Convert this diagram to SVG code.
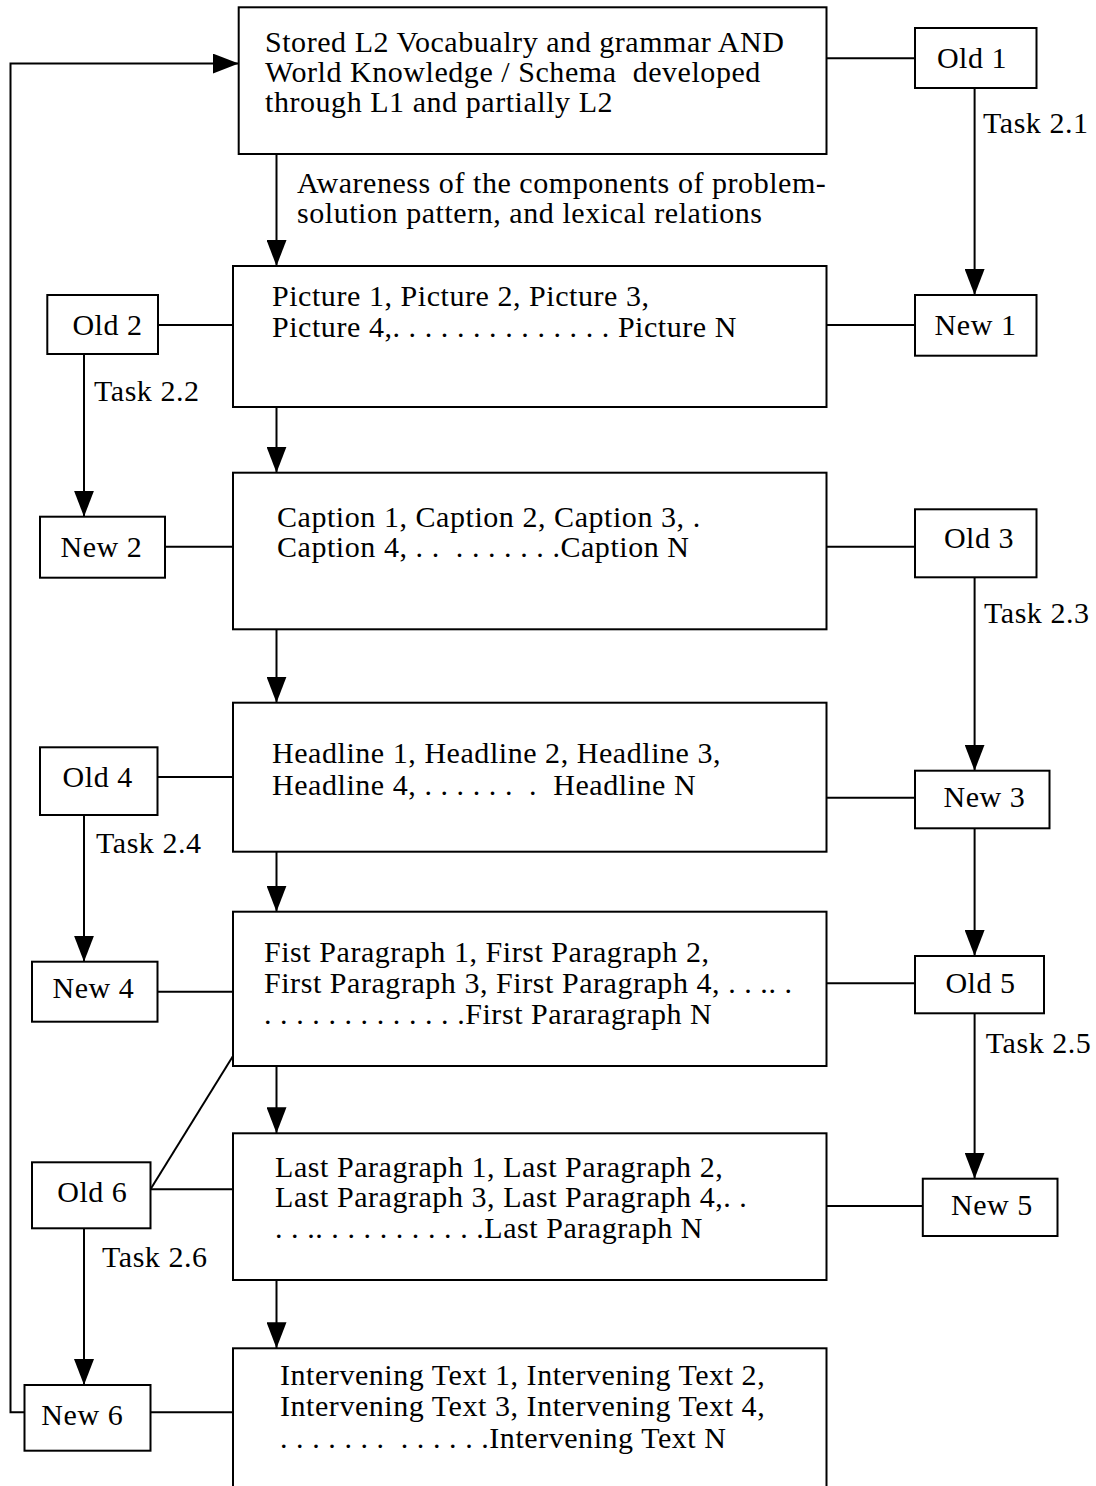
<svg xmlns="http://www.w3.org/2000/svg" width="1096" height="1486" viewBox="0 0 1096 1486">
<style>
  .box { fill: #fff; stroke: #000; stroke-width: 2; }
  .ln { fill: none; stroke: #000; stroke-width: 2; }
  .arr { fill: none; stroke: #000; stroke-width: 2; marker-end: url(#ah); }
  text { font-family: "Liberation Serif", "Times New Roman", serif; font-size: 30px; letter-spacing: 0.55px; fill: #000; white-space: pre; }
  .c { text-anchor: middle; }
</style>
<defs>
  <marker id="ah" viewBox="0 0 26 20" refX="26" refY="10" markerWidth="26" markerHeight="20" markerUnits="userSpaceOnUse" orient="auto">
    <path d="M0,0 L26,10 L0,20 z" fill="#000"/>
  </marker>
</defs>
<rect width="1096" height="1486" fill="#fff"/>

<g id="connectors">
  <polyline class="arr" points="24.5,1412.3 10.5,1412.3 10.5,63.5 238.7,63.5"/>
  <line class="arr" x1="276.5" y1="154" x2="276.5" y2="266"/>
  <line class="arr" x1="276.5" y1="407" x2="276.5" y2="472.7"/>
  <line class="arr" x1="276.5" y1="629.3" x2="276.5" y2="702.7"/>
  <line class="arr" x1="276.5" y1="851.7" x2="276.5" y2="911.7"/>
  <line class="arr" x1="276.5" y1="1066" x2="276.5" y2="1133.3"/>
  <line class="arr" x1="276.5" y1="1280" x2="276.5" y2="1348.3"/>
  <line class="arr" x1="974.6" y1="88" x2="974.6" y2="295"/>
  <line class="arr" x1="974.6" y1="577.3" x2="974.6" y2="770.7"/>
  <line class="arr" x1="974.6" y1="828.3" x2="974.6" y2="956"/>
  <line class="arr" x1="974.6" y1="1013.3" x2="974.6" y2="1178.7"/>
  <line class="arr" x1="84" y1="354" x2="84" y2="516.7"/>
  <line class="arr" x1="84" y1="815" x2="84" y2="961.7"/>
  <line class="arr" x1="84" y1="1228.3" x2="84" y2="1385"/>
  <line class="ln" x1="824" y1="58.3" x2="915" y2="58.3"/>
  <line class="ln" x1="824" y1="325" x2="915" y2="325"/>
  <line class="ln" x1="824" y1="546.7" x2="915" y2="546.7"/>
  <line class="ln" x1="824" y1="797.7" x2="915" y2="797.7"/>
  <line class="ln" x1="824" y1="983.3" x2="915" y2="983.3"/>
  <line class="ln" x1="824" y1="1206" x2="922.8" y2="1206"/>
  <line class="ln" x1="158" y1="325" x2="233" y2="325"/>
  <line class="ln" x1="165" y1="546.7" x2="238" y2="546.7"/>
  <line class="ln" x1="157.5" y1="777" x2="238" y2="777"/>
  <line class="ln" x1="157.5" y1="991.7" x2="233" y2="991.7"/>
  <line class="ln" x1="150.5" y1="1189.3" x2="238" y2="1189.3"/>
  <line class="ln" x1="150.5" y1="1412.3" x2="233" y2="1412.3"/>
  <line class="ln" x1="233" y1="1056" x2="150.5" y2="1189.3"/>
  <text x="297" y="193">Awareness of the components of problem-</text>
  <text x="297" y="223">solution pattern, and lexical relations</text>
  <text x="983" y="133">Task 2.1</text>
  <text x="94" y="400.7">Task 2.2</text>
  <text x="984" y="622.7">Task 2.3</text>
  <text x="96" y="852.7">Task 2.4</text>
  <text x="985.8" y="1053.3">Task 2.5</text>
  <text x="102" y="1266.7">Task 2.6</text>
</g>

<g id="stored">
  <rect class="box" x="238.7" y="7.3" width="587.8" height="146.7"/>
  <text x="265" y="52">Stored L2 Vocabualry and grammar AND</text>
  <text x="265" y="82">World Knowledge / Schema  developed</text>
  <text x="265" y="112">through L1 and partially L2</text>
</g>
<g id="picture">
  <rect class="box" x="233" y="266" width="593.5" height="141"/>
  <text x="272" y="306">Picture 1, Picture 2, Picture 3,</text>
  <text x="272" y="337">Picture 4,. . . . . . . . . . . . . . Picture N</text>
</g>
<g id="caption">
  <rect class="box" x="233" y="472.7" width="593.5" height="156.6"/>
  <text x="277" y="527">Caption 1, Caption 2, Caption 3, .</text>
  <text x="277" y="557">Caption 4, . .  . . . . . . .Caption N</text>
</g>
<g id="headline">
  <rect class="box" x="233" y="702.7" width="593.5" height="149"/>
  <text x="272" y="763">Headline 1, Headline 2, Headline 3,</text>
  <text x="272" y="795">Headline 4, . . . . . .  .  Headline N</text>
</g>
<g id="first">
  <rect class="box" x="233" y="911.7" width="593.5" height="154.3"/>
  <text x="264" y="962">Fist Paragraph 1, First Paragraph 2,</text>
  <text x="264" y="993">First Paragraph 3, First Paragraph 4, . . .. .</text>
  <text x="264" y="1024">. . . . . . . . . . . . .First Pararagraph N</text>
</g>
<g id="last">
  <rect class="box" x="233" y="1133.3" width="593.5" height="146.7"/>
  <text x="275" y="1177">Last Paragraph 1, Last Paragraph 2,</text>
  <text x="275" y="1207">Last Paragraph 3, Last Paragraph 4,. .</text>
  <text x="275" y="1238">. . .. . . . . . . . . . .Last Paragraph N</text>
</g>
<g id="intervening">
  <rect class="box" x="233" y="1348.3" width="593.5" height="150"/>
  <text x="280" y="1385">Intervening Text 1, Intervening Text 2,</text>
  <text x="280" y="1416">Intervening Text 3, Intervening Text 4,</text>
  <text x="280" y="1448">. . . . . . .  . . . . . .Intervening Text N</text>
</g>
<g id="old1"><rect class="box" x="915" y="28" width="121.5" height="60"/><text class="c" x="972" y="68.3">Old 1</text></g>
<g id="new1"><rect class="box" x="915" y="295" width="121.5" height="60.7"/><text class="c" x="975.5" y="335">New 1</text></g>
<g id="old3"><rect class="box" x="915" y="509.3" width="121.5" height="68"/><text class="c" x="979" y="548.3">Old 3</text></g>
<g id="new3"><rect class="box" x="915" y="770.7" width="134.5" height="57.6"/><text class="c" x="984.4" y="807.3">New 3</text></g>
<g id="old5"><rect class="box" x="915" y="956" width="129" height="57.3"/><text class="c" x="980.5" y="993.3">Old 5</text></g>
<g id="new5"><rect class="box" x="922.8" y="1178.7" width="134.7" height="57.3"/><text class="c" x="991.9" y="1215">New 5</text></g>
<g id="old2"><rect class="box" x="47.3" y="295" width="110.7" height="59"/><text class="c" x="107.5" y="335">Old 2</text></g>
<g id="new2"><rect class="box" x="40" y="516.7" width="125" height="61"/><text class="c" x="101.4" y="556.7">New 2</text></g>
<g id="old4"><rect class="box" x="40" y="747.3" width="117.5" height="67.7"/><text class="c" x="97.7" y="786.7">Old 4</text></g>
<g id="new4"><rect class="box" x="32" y="961.7" width="125.5" height="60"/><text class="c" x="93.4" y="998.3">New 4</text></g>
<g id="old6"><rect class="box" x="32" y="1162.3" width="118.5" height="66"/><text class="c" x="92.3" y="1201.7">Old 6</text></g>
<g id="new6"><rect class="box" x="24.5" y="1385" width="126" height="65.7"/><text class="c" x="82.3" y="1425">New 6</text></g>
</svg>
